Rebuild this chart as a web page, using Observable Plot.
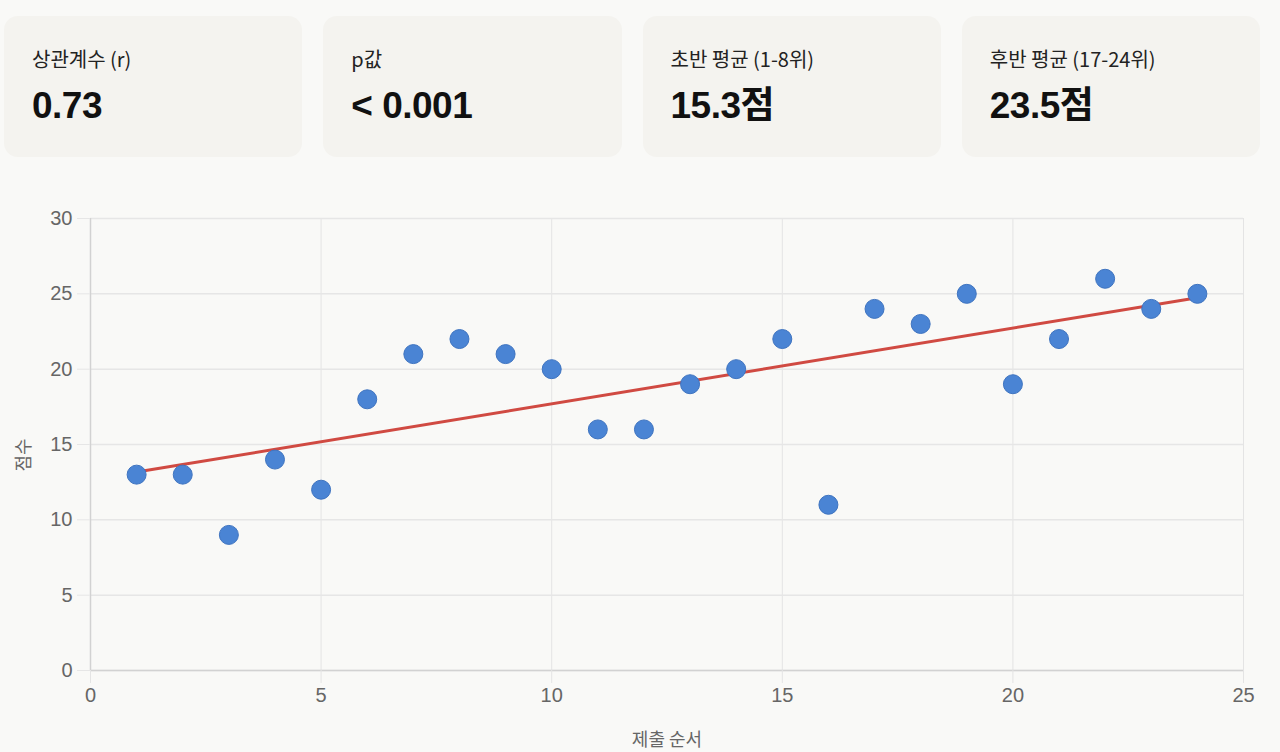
<!DOCTYPE html>
<html>
<head>
<meta charset="utf-8">
<script src="https://cdn.jsdelivr.net/npm/d3@7"></script>
<script src="https://cdn.jsdelivr.net/npm/@observablehq/plot@0.6"></script>
<style>
  html, body { margin:0; padding:0; background:#f9f9f7; width:1280px; height:752px; overflow:hidden;
    font-family:"Liberation Sans","Noto Sans CJK KR",sans-serif; }
  .cards { position:absolute; left:4px; top:16px; width:1256px; display:flex; gap:21px; }
  .card { flex:1; height:141px; background:#f4f3ef; border-radius:14px; box-sizing:border-box; padding:28px 0 0 28px; }
  .lab { font-size:20px; color:#222; line-height:30px; font-family:"Noto Sans CJK KR","Liberation Sans",sans-serif; }
  .val { font-size:37px; font-weight:700; color:#111; line-height:46px; margin-top:9px; letter-spacing:-0.5px;
    font-family:"Liberation Sans","Noto Sans CJK KR",sans-serif; }
  #chart { position:absolute; left:0; top:180px; }
  .axlab { position:absolute; font-size:18px; color:#666; font-family:"Noto Sans CJK KR",sans-serif; white-space:nowrap; }
</style>
</head>
<body>
<div class="cards" id="cards"></div>
<div id="chart"></div>
<div class="axlab" id="xlab" style="left:667px; top:738px; transform:translate(-50%,-50%);"></div>
<div class="axlab" id="ylab" style="left:22px; top:455px; transform:translate(-50%,-50%) rotate(-90deg);"></div>
<script>
const cardLabels = ["상관계수 (r)", "p값", "초반 평균 (1-8위)", "후반 평균 (17-24위)"];
const cardValues = ["0.73", "< 0.001", "15.3점", "23.5점"];

const order = [1,2,3,4,5,6,7,8,9,10,11,12,13,14,15,16,17,18,19,20,21,22,23,24];
const scores = [13,13,9,14,12,18,21,22,21,20,16,16,19,20,22,11,24,23,25,19,22,26,24,25];
const xTicks = [0,5,10,15,20,25];
const yTicks = [0,5,10,15,20,25,30];
const xLabel = "제출 순서";
const yLabel = "점수";

const cards = document.getElementById("cards");
cardLabels.forEach((l,i) => {
  const c = document.createElement("div"); c.className = "card";
  const a = document.createElement("div"); a.className = "lab"; a.textContent = l;
  const b = document.createElement("div"); b.className = "val"; b.textContent = cardValues[i];
  c.appendChild(a); c.appendChild(b); cards.appendChild(c);
});
document.getElementById("xlab").textContent = xLabel;
document.getElementById("ylab").textContent = yLabel;

const data = order.map((x,i) => ({x, y: scores[i]}));

const chart = Plot.plot({
  width:1280, height:572,
  marginTop:38, marginBottom:82, marginLeft:90, marginRight:37,
  style:{background:"transparent", fontFamily:"'Liberation Sans', sans-serif", fontSize:"20px", color:"#666"},
  x:{domain:[0,25], label:null},
  y:{domain:[0,30], label:null},
  marks:[
    Plot.gridX(xTicks, {stroke:"#e4e4e4", strokeOpacity:1, strokeWidth:1}),
    Plot.gridY(yTicks, {stroke:"#e6e6e6", strokeOpacity:1, strokeWidth:1.5}),
    Plot.ruleX([0], {stroke:"#d2d2d2", strokeWidth:1.5}),
    Plot.ruleY([0], {stroke:"#d2d2d2", strokeWidth:1.5}),
    Plot.axisX(xTicks, {tickSize:13, tickPadding:4, stroke:"#e4e4e4", strokeOpacity:1, fill:"#666", fontSize:20, label:null}),
    Plot.axisY(yTicks, {tickSize:13, tickPadding:5, stroke:"#e6e6e6", strokeOpacity:1, fill:"#666", fontSize:20, label:null}),
    Plot.linearRegressionY(data, {x:"x", y:"y", ci:0, stroke:"#d04a42", strokeWidth:3}),
    Plot.dot(data, {x:"x", y:"y", r:9.5, fill:"#4a84d4", stroke:"#3f74c0", strokeWidth:1})
  ]
});
document.getElementById("chart").appendChild(chart);
</script>
</body>
</html>
